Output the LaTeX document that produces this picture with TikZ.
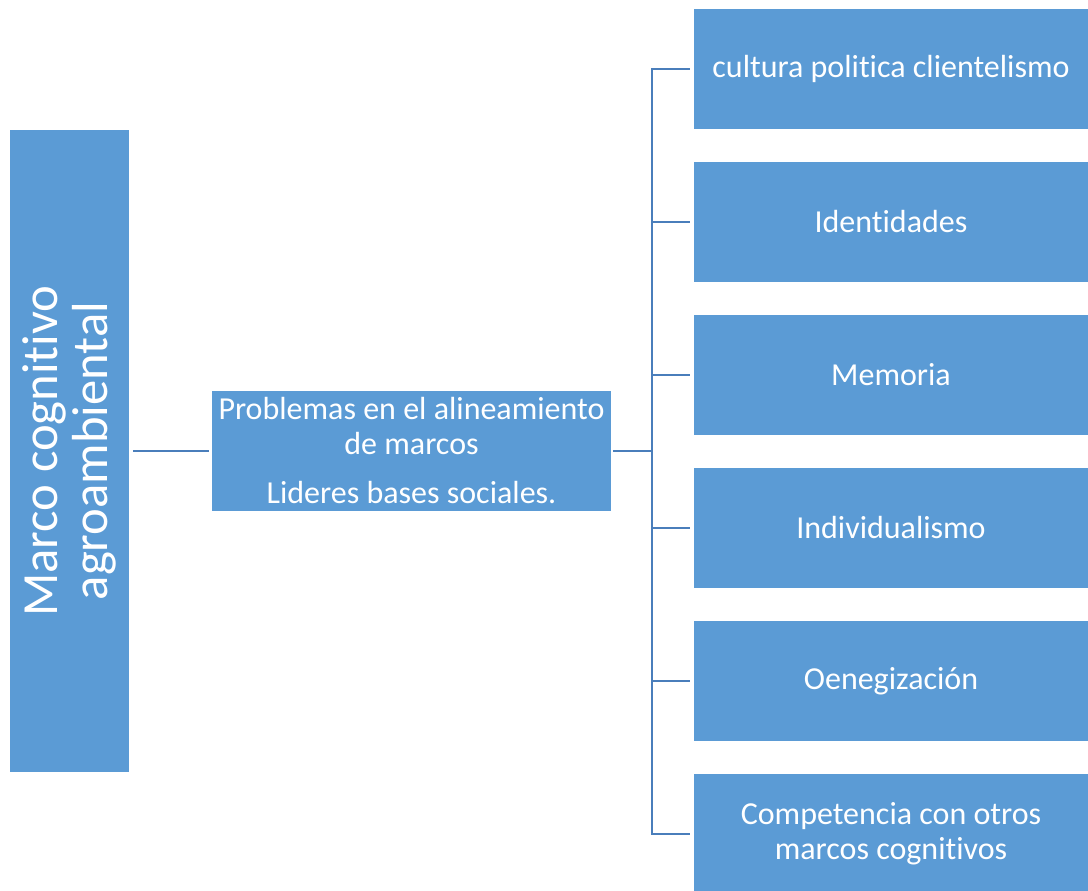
\documentclass[tikz,border=0pt]{standalone}
\usepackage{fontspec, xcolor}
\setmainfont[Ligatures=NoCommon]{Carlito}
\definecolor{caja}{HTML}{5B9BD5}
\definecolor{linea}{HTML}{4A7EBB}

\begin{document}
\begin{tikzpicture}[x=0.75pt, y=-0.75pt,
  caja/.style={fill=caja, text=white, inner sep=0pt, align=center, font=\fontsize{24}{26}\selectfont},
  conector/.style={draw=linea, line width=1.5pt}]
\useasboundingbox (0,0) rectangle (1088,891);
% Marco
\node[caja, rotate=90, minimum width=481.5pt, minimum height=89.25pt, font=\fontsize{38}{38}\selectfont] (marco) at (69.5,451) {Marco cognitivo\\agroambiental};
% Problemas
\node[caja, minimum width=299.25pt, minimum height=90pt] (prob) at (411.5,451) {Problemas en el alineamiento\\de marcos\\[11pt]Lideres bases sociales.};
% Ramas
\node[caja, minimum width=295.5pt, minimum height=90pt] (r1) at (891,69) {cultura politica clientelismo};
\node[caja, minimum width=295.5pt, minimum height=90pt] (r2) at (891,222) {Identidades};
\node[caja, minimum width=295.5pt, minimum height=90pt] (r3) at (891,375) {Memoria};
\node[caja, minimum width=295.5pt, minimum height=90pt] (r4) at (891,528) {Individualismo};
\node[caja, minimum width=295.5pt, minimum height=90pt] (r5) at (891,681) {Oenegización};
\node[caja, minimum width=295.5pt, minimum height=90pt] (r6) at (891,834) {Competencia con otros\\marcos cognitivos};
% Conectores
\coordinate (eje) at (652,451);
\draw[conector, shorten <=3pt, shorten >=2pt] (marco.south) -- (prob.west);
\draw[conector, shorten <=1.5pt] (prob.east) -- (eje);
\foreach \i in {1,...,6}
  \draw[conector, shorten >=3pt] (eje) |- (r\i.west);
\end{tikzpicture}
\end{document}
